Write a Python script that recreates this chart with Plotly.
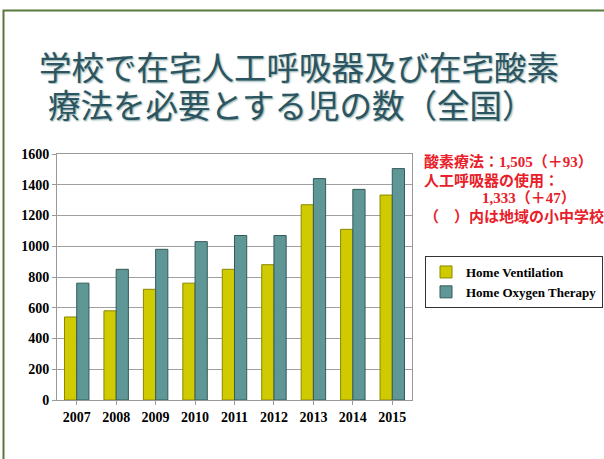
import plotly.graph_objects as go

years = ["2007", "2008", "2009", "2010", "2011", "2012", "2013", "2014", "2015"]
home_ventilation = [540, 580, 720, 760, 850, 880, 1270, 1110, 1333]
home_oxygen = [760, 850, 980, 1030, 1070, 1070, 1440, 1370, 1505]
y_ticks = [0, 200, 400, 600, 800, 1000, 1200, 1400, 1600]

title_line1 = "学校で在宅人工呼吸器及び在宅酸素"
title_line2 = "療法を必要とする児の数（全国）"
note_lines = ["酸素療法：1,505（＋93）", "人工呼吸器の使用：", "1,333（＋47）", "（　）内は地域の小中学校"]

W, H = 604, 459
L, R, T, B = 57, 412, 154, 400  # plot area pixels

def px(x):
    return (x - L) / (R - L)

def py(y):
    return (B - y) / (B - T)

serif = "Liberation Serif, Times New Roman, serif"
jp = "Liberation Serif, Noto Sans CJK JP, sans-serif"

fig = go.Figure()
fig.add_trace(go.Bar(
    x=years, y=home_ventilation, name="Home Ventilation",
    marker=dict(color="#cfcb00", line=dict(color="#8a8700", width=1)),
))
fig.add_trace(go.Bar(
    x=years, y=home_oxygen, name="Home Oxygen Therapy",
    marker=dict(color="#5f9797", line=dict(color="#355a5a", width=1)),
))

title_font = dict(family="Noto Sans CJK JP, sans-serif", size=32.5, color="#2c5561",
                  shadow="1px 1px 2px #8aa")
annotations = [
    dict(text=title_line1, xref="paper", yref="paper", x=px(37), y=py(65),
         xanchor="left", yanchor="middle", align="left", font=title_font,
         showarrow=False, height=37),
    dict(text=title_line2, xref="paper", yref="paper", x=px(46), y=py(104),
         xanchor="left", yanchor="middle", align="left", font=title_font,
         showarrow=False, height=37),
]
note_specs = [(422, 161), (422, 180), (480, 198), (422, 216)]
for txt, (nx, ny) in zip(note_lines, note_specs):
    annotations.append(dict(text=txt, xref="paper", yref="paper", x=px(nx), y=py(ny),
                            xanchor="left", yanchor="middle", align="left",
                            font=dict(family=jp, size=15, color="#e8202a", weight="bold"),
                            showarrow=False))

fig.update_layout(
    width=W, height=H,
    margin=dict(l=L, r=W - R, t=T, b=H - B, pad=0, autoexpand=False),
    paper_bgcolor="white", plot_bgcolor="white",
    barmode="group", bargap=0.38, bargroupgap=0.0,
    showlegend=True,
    legend=dict(x=px(425), y=py(256), xanchor="left", yanchor="top",
                bordercolor="#333", borderwidth=1, bgcolor="white",
                font=dict(family=serif, size=13, color="black", weight="bold"),
                tracegroupgap=0, itemwidth=30),
    annotations=annotations,
    shapes=[dict(type="rect", xref="paper", yref="paper",
                 x0=px(3.5), x1=px(640), y0=py(500), y1=py(10.5),
                 line=dict(color="#567a3c", width=2), layer="below")],
    font=dict(family=serif),
)
fig.update_xaxes(
    showline=True, linecolor="#999", mirror=True, ticks="outside", ticklen=4,
    tickcolor="#999", showgrid=False,
    tickfont=dict(family=serif, size=14, color="black", weight="bold"),
)
fig.update_yaxes(
    range=[0, 1600], tickvals=y_ticks, showline=True, linecolor="#999", mirror=True,
    ticks="outside", ticklen=4, tickcolor="#999", showgrid=True, gridcolor="#a0a0a0",
    gridwidth=1, zeroline=False,
    tickfont=dict(family=serif, size=14, color="black", weight="bold"),
)

fig.write_html("out.html", config={"displayModeBar": False},
               post_script="document.body.style.margin='0';document.body.style.overflow='hidden';")
